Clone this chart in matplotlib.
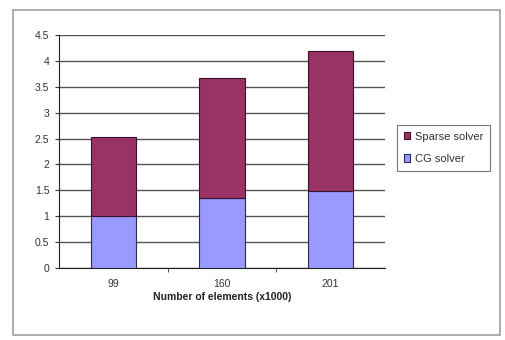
import matplotlib
matplotlib.use("Agg")
import matplotlib.pyplot as plt
import matplotlib.patches as mpatches
import numpy as np

categories = ["99", "160", "201"]
cg_solver = [1.0, 1.36, 1.48]
sparse_solver = [1.53, 2.30, 2.71]
y_ticks = [0, 0.5, 1, 1.5, 2, 2.5, 3, 3.5, 4, 4.5]
y_tick_labels = ["0", "0.5", "1", "1.5", "2", "2.5", "3", "3.5", "4", "4.5"]

plt.rcParams["font.family"] = ["Liberation Sans", "DejaVu Sans"]

fig = plt.figure(figsize=(5.05, 3.4), dpi=100)
ax = fig.add_axes([0.117, 0.212, 0.645, 0.685])

# рамка навколо діаграми
fig.patches.append(mpatches.Rectangle((13 / 505, 5 / 340), 487 / 505, 325 / 340,
                                      transform=fig.transFigure, fill=False,
                                      edgecolor="#a0a0a0", linewidth=1.2))

x = np.arange(len(categories))
ax.bar(x, cg_solver, width=0.42, color="#9999ff", edgecolor="#2b2b55",
       linewidth=0.8, label="CG solver", zorder=3)
ax.bar(x, sparse_solver, width=0.42, bottom=cg_solver, color="#993366",
       edgecolor="#3a1030", linewidth=0.8, label="Sparse solver", zorder=3)

ax.set_xlim(-0.5, len(categories) - 0.5)
ax.set_ylim(0, 4.5)
ax.set_yticks(y_ticks)
ax.set_yticklabels(y_tick_labels)
ax.set_xticks(x)
ax.set_xticklabels(categories)
ax.set_xticks(np.arange(0.5, len(categories) - 1, 1.0), minor=True)
ax.tick_params(axis="x", which="major", length=0, labelsize=7.5, colors="#333333", pad=8)
ax.tick_params(axis="x", which="minor", length=3, direction="out", color="#333333")
ax.tick_params(axis="y", length=3, direction="out", labelsize=7.5, colors="#333333", pad=4)
ax.yaxis.grid(True, color="#555555", linewidth=1.0, zorder=0)
ax.set_axisbelow(True)

for side in ["top", "right"]:
    ax.spines[side].set_visible(False)
ax.spines["left"].set_color("#222222")
ax.spines["bottom"].set_color("#222222")

ax.set_xlabel("Number of elements (x1000)", fontsize=7.5, fontweight="bold",
              color="#222222", labelpad=2)

handles, labels = ax.get_legend_handles_labels()
leg = fig.legend(handles[::-1], labels[::-1], loc="upper left",
                 bbox_to_anchor=(397 / 505, 1 - 125 / 340), fontsize=8,
                 frameon=True, fancybox=False, edgecolor="#555555",
                 handlelength=0.6, handleheight=0.6, handletextpad=0.4,
                 borderpad=0.6, labelspacing=1.1, borderaxespad=0,
                 labelcolor="#333333")
leg.get_frame().set_linewidth(0.8)

fig.savefig("out.png", dpi=100)
